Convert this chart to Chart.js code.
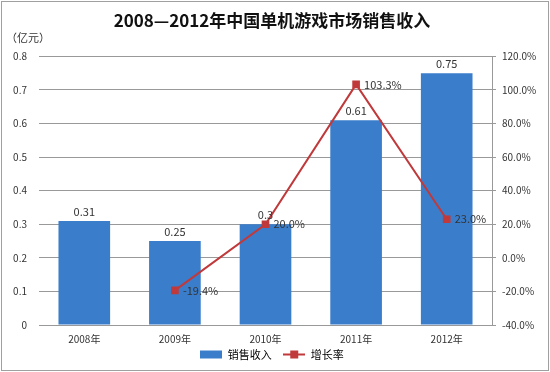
<!DOCTYPE html>
<html>
<head>
<meta charset="utf-8">
<script src="https://cdn.jsdelivr.net/npm/chart.js@4"></script>
<style>
  body { margin: 0; background: #fff; }
  #wrap { position: absolute; left: 1px; top: 1px; width: 546px; height: 368px; border: 1px solid #a0a0a0; }
</style>
</head>
<body>
<div id="wrap"><canvas id="c" width="546" height="368"></canvas></div>
<script>
const years = ['2008年', '2009年', '2010年', '2011年', '2012年'];
const sales = [0.31, 0.25, 0.3, 0.61, 0.75];
const growth = [null, -19.4, 20.0, 103.3, 23.0];
const leftTicks = [0, 0.1, 0.2, 0.3, 0.4, 0.5, 0.6, 0.7, 0.8];
const rightTicks = [-40, -20, 0, 20, 40, 60, 80, 100, 120];

const FONT = '"Noto Sans CJK SC", "Noto Sans", sans-serif';
const BLUE = '#3a7dcb';
const RED = '#c0393b';

// little legend symbols
function makeIcon(kind) {
    const c = document.createElement('canvas');
    c.width = 22;
    c.height = 10;
    const g = c.getContext('2d');
    if (kind === 'bar') {
        g.fillStyle = BLUE;
        g.fillRect(0, 1, 22, 8);
    } else {
        g.strokeStyle = RED;
        g.lineWidth = 2;
        g.beginPath();
        g.moveTo(0, 5);
        g.lineTo(22, 5);
        g.stroke();
        g.fillStyle = RED;
        g.fillRect(7, 1, 8, 8);
    }
    return c;
}

const labelPlugin = {
    id: 'labels',
    afterDatasetsDraw(chart) {
        const ctx = chart.ctx;
        ctx.save();
        ctx.font = '11px ' + FONT;
        ctx.fillStyle = '#333';
        chart.getDatasetMeta(0).data.forEach((bar, i) => {
            ctx.textAlign = 'center';
            ctx.textBaseline = 'bottom';
            ctx.fillText(String(sales[i]), bar.x, bar.y - 4);
        });
        chart.getDatasetMeta(1).data.forEach((pt, i) => {
            if (growth[i] === null) return;
            ctx.textAlign = 'left';
            ctx.textBaseline = 'middle';
            ctx.fillText(growth[i].toFixed(1) + '%', pt.x + 8, pt.y);
        });
        ctx.textAlign = 'left';
        ctx.fillText('（亿元）', 4, 36);
        ctx.restore();
    }
};

const ctx = document.getElementById('c').getContext('2d');
new Chart(ctx, {
    data: {
        labels: years,
        datasets: [{
                type: 'bar',
                label: '销售收入',
                data: sales,
                backgroundColor: BLUE,
                borderWidth: 0,
                barPercentage: 0.57,
                categoryPercentage: 1,
                yAxisID: 'y',
                order: 2
            },
            {
                type: 'line',
                label: '增长率',
                data: growth,
                borderColor: RED,
                backgroundColor: RED,
                borderWidth: 2,
                pointStyle: 'rect',
                pointRadius: 4,
                tension: 0,
                yAxisID: 'y1',
                order: 1
            }
        ]
    },
    options: {
        responsive: false,
        animation: false,
        layout: {
            padding: { left: 0, right: 6, top: 0, bottom: 0 }
        },
        plugins: {
            title: {
                display: true,
                text: '2008—2012年中国单机游戏市场销售收入',
                font: { family: FONT, size: 17, weight: 'bold' },
                color: '#111',
                padding: { top: 8, bottom: 26 }
            },
            legend: {
                position: 'bottom',
                labels: {
                    font: { family: FONT, size: 11 },
                    color: '#333',
                    usePointStyle: true,
                    pointStyleWidth: 22,
                    padding: 4,
                    generateLabels() {
                        return [{
                                text: '销售收入   ',
                                pointStyle: makeIcon('bar'),
                                datasetIndex: 0
                            },
                            {
                                text: '增长率',
                                pointStyle: makeIcon('line'),
                                datasetIndex: 1
                            }
                        ];
                    }
                }
            },
            tooltip: { enabled: false }
        },
        scales: {
            x: {
                grid: { display: false },
                border: { color: '#999' },
                ticks: {
                    font: { family: FONT, size: 10 },
                    color: '#333',
                    padding: 0,
                    maxRotation: 0,
                    minRotation: 0
                }
            },
            y: {
                position: 'left',
                min: 0,
                max: 0.8,
                afterBuildTicks(axis) {
                    axis.ticks = leftTicks.map(v => ({ value: v }));
                },
                afterFit(axis) { axis.width = 37; },
                grid: { color: '#999', drawTicks: false },
                border: { display: false },
                ticks: {
                    font: { family: FONT, size: 10 },
                    color: '#333',
                    padding: 12,
                    callback: v => String(Math.round(v * 10) / 10)
                }
            },
            y1: {
                position: 'right',
                min: -40,
                max: 120,
                afterBuildTicks(axis) {
                    axis.ticks = rightTicks.map(v => ({ value: v }));
                },
                afterFit(axis) { axis.width = 50; },
                grid: { drawOnChartArea: false, color: '#999', tickLength: 4 },
                border: { color: '#999' },
                ticks: {
                    font: { family: FONT, size: 10 },
                    color: '#333',
                    padding: 6,
                    callback: v => v.toFixed(1) + '%'
                }
            }
        }
    },
    plugins: [labelPlugin]
});
</script>
</body>
</html>
